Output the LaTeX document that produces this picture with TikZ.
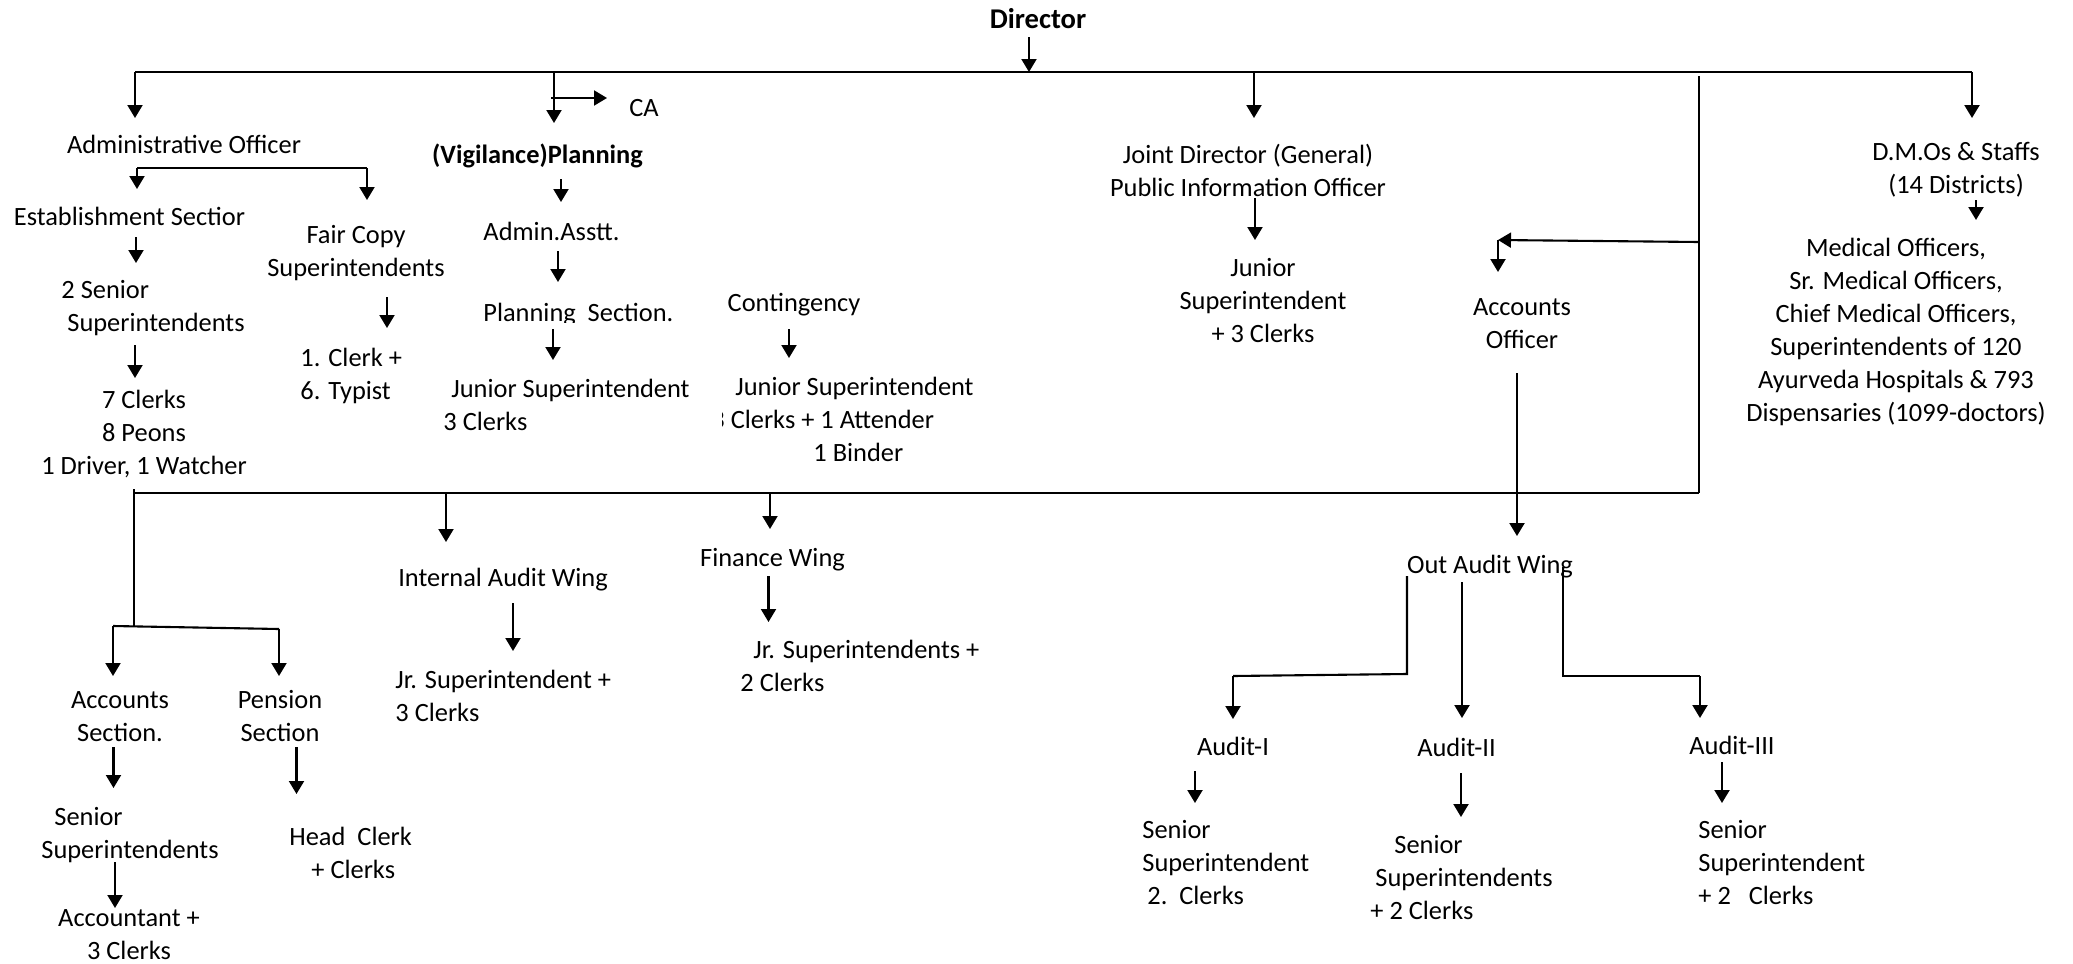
\documentclass[tikz,border=0pt]{standalone}
\usepackage{fontspec}
\setmainfont{Carlito}
\usetikzlibrary{arrows.meta}
\newcommand\mylines[2][c]{\begin{tabular}[t]{@{}#1@{}}#2\end{tabular}}
\begin{document}
\begin{tikzpicture}[x=0.5pt,y=-0.5pt,
  every node/.style={inner sep=0pt,font=\fontsize{13.2pt}{16.5pt}\selectfont},
  tb/.style={anchor=base}, tbw/.style={anchor=base west},
  ln/.style={line width=1.05pt},
  arr/.style={line width=1.05pt,-{Triangle[length=6.5pt,width=7.5pt]}}]
\useasboundingbox[fill=white] (0,0) rectangle (2073,964);

% ---------- text nodes ----------
\node[tb,font=\fontsize{14.3pt}{17pt}\selectfont\bfseries] (dir) at (1038,28) {Director};
\node[tbw] (ca) at (629,116) {CA};
\node[tb] (ao) at (184,153) {Administrative Officer};
\node[tb] (vig) at (537.5,163) {\bfseries (Vigilance)Planning};
\node[tb] (jd) at (1248,163) {\mylines{Joint Director (General)\\Public Information Officer}};
\node[tb] (dmo) at (1956,160) {\mylines{D.M.Os \& Staffs\\(14 Districts)}};
\node[tb] (est) at (129.5,225) {Establishment Sectior};
\node[tb] (fc) at (356,243) {\mylines{Fair Copy\\Superintendents}};
\node[tb] (aa) at (551.5,240) {Admin.Asstt.};
\begin{scope}
\clip (470,290) rectangle (700,322);
\node[tbw] (ps) at (483,321) {Planning\ \ Section.};
\end{scope}
\node[tbw] (ss) at (61,298) {\mylines[l]{2 Senior\\\hspace*{3pt}Superintendents}};
\node[tb] (cont) at (794,311) {Contingency};
\node[tb] (jds) at (1263,276) {\mylines{Junior\\Superintendent\\+ 3 Clerks}};
\node[tb] (mo) at (1896,256) {\mylines{Medical Officers,\\Sr. Medical Officers,\\Chief Medical Officers,\\Superintendents of 120\\Ayurveda Hospitals \& 793\\Dispensaries (1099-doctors)}};
\node[tb] (acco) at (1522,315) {\mylines{Accounts\\Officer}};
\node[tbw] (fcs) at (300,366) {\mylines[l]{1. Clerk +\\6. Typist}};
\node[tbw] (pjs) at (443,397) {\mylines[l]{\hspace*{4pt}Junior Superintendent\\3 Clerks}};
\begin{scope}
\clip (722,360) rectangle (1000,480);
\node[tbw] (cjs) at (711,395) {\mylines[l]{\hspace*{12pt}Junior Superintendent\\3 Clerks + 1 Attender\\\hspace*{51pt}1 Binder}};
\end{scope}
\node[tb] (estc) at (144,408) {\mylines{7 Clerks\\8 Peons\\1 Driver, 1 Watcher}};

\node[tb] (ia) at (503,586) {Internal Audit Wing};
\node[tb] (fw) at (772.5,566) {Finance Wing};
\node[tb] (oa) at (1490,573) {Out Audit Wing};
\node[tb] (as) at (120,708) {\mylines{Accounts\\Section.}};
\node[tb] (pen) at (280,708) {\mylines{Pension\\Section}};
\node[tbw] (iac) at (395,688) {\mylines[l]{Jr. Superintendent +\\3 Clerks}};
\node[tbw] (fwc) at (740,658) {\mylines[l]{\hspace*{6.5pt}Jr. Superintendents +\\2 Clerks}};
\node[tbw] (ass) at (41,825) {\mylines[l]{\hspace*{6.5pt}Senior\\Superintendents}};
\node[tbw] (hc) at (289,845) {\mylines[l]{Head\ \ Clerk\\\hspace*{11pt}+ Clerks}};
\node[tb] (acc) at (129,926) {\mylines{Accountant +\\3 Clerks}};
\node[tb] (a1) at (1233,755) {Audit-I};
\node[tb] (a2) at (1456.5,756) {Audit-II};
\node[tb] (a3) at (1732,754) {Audit-III};
\node[tbw] (a1c) at (1142,838) {\mylines[l]{Senior\\Superintendent\\\hspace*{2.5pt}2.\ \ Clerks}};
\node[tbw] (a2c) at (1370,853) {\mylines[l]{\hspace*{12pt}Senior\\\hspace*{2.5pt}Superintendents\\+ 2 Clerks}};
\node[tbw] (a3c) at (1698,838) {\mylines[l]{Senior\\Superintendent\\+ 2\ \ \ Clerks}};

% ---------- connector points ----------
\coordinate (dirA) at (1029,37);  \coordinate (dirB) at (1029,72);
\coordinate (tL) at (135,72);     \coordinate (tR) at (1972,72);
\coordinate (aoT) at (135,118);
\coordinate (vigS) at (554,72);   \coordinate (vigT) at (554,123);
\coordinate (caS) at (551,98);    \coordinate (caT) at (607,98);
\coordinate (jdS) at (1254,72);   \coordinate (jdT) at (1254,118);
\coordinate (dmoT) at (1972,118);
\coordinate (vR1) at (1699,76);   \coordinate (vR2) at (1699,493);
\coordinate (accH) at (1699,242); \coordinate (accC) at (1498,240); \coordinate (accD) at (1498,272);
\coordinate (accoS) at (1517,373); \coordinate (accoT) at (1517,536);
\coordinate (bL) at (134,493);
\coordinate (vL1) at (134,489);   \coordinate (vL2) at (134,627);
\coordinate (brL) at (113,626);   \coordinate (brR) at (279,629);
\coordinate (asT) at (113,676);   \coordinate (penT) at (279,676);
\coordinate (iaS) at (446,493);   \coordinate (iaT) at (446,542);
\coordinate (fwS) at (770,493);   \coordinate (fwT) at (770,529);
\coordinate (aoL) at (137,168);   \coordinate (aoR) at (367,168);
\coordinate (estT) at (137,189);  \coordinate (fcT) at (367,200);
\coordinate (e1) at (136,237);    \coordinate (e2) at (136,263);
\coordinate (s1) at (135,345);    \coordinate (s2) at (135,378);
\coordinate (f1) at (387,297);    \coordinate (f2) at (387,328);
\coordinate (v1) at (561,179);    \coordinate (v2) at (561,202);
\coordinate (v3) at (558,251);    \coordinate (v4) at (558,282);
\coordinate (v5) at (553,329);    \coordinate (v6) at (553,360);
\coordinate (c1) at (789,329);    \coordinate (c2) at (789,358);
\coordinate (j1) at (1255,198);   \coordinate (j2) at (1255,240);
\coordinate (d1) at (1976,200);   \coordinate (d2) at (1976,220);
\coordinate (as1) at (113.5,747); \coordinate (as2) at (113.5,788);
\coordinate (p1) at (296.5,747);  \coordinate (p2) at (296.5,794);
\coordinate (ss1) at (115,862);   \coordinate (ss2) at (115,908);
\coordinate (ia1) at (513,603);   \coordinate (ia2) at (513,651);
\coordinate (fw1) at (768.5,576); \coordinate (fw2) at (768.5,622);
\coordinate (oL1) at (1407,576);  \coordinate (oL2) at (1407,674);
\coordinate (oL3) at (1233,676);  \coordinate (oL4) at (1233,719);
\coordinate (oM1) at (1462,582);  \coordinate (oM2) at (1462,718);
\coordinate (oR1) at (1563,567);  \coordinate (oR2) at (1563,676);
\coordinate (oR3) at (1700,676);  \coordinate (oR4) at (1700,718);
\coordinate (x1) at (1195,771);   \coordinate (x2) at (1195,803);
\coordinate (y1) at (1461,773);   \coordinate (y2) at (1461,817);
\coordinate (z1) at (1722,762);   \coordinate (z2) at (1722,803);

% ---------- connectors ----------
\draw[arr] (dirA) -- (dirB);
\draw[ln] (tL) -- (tR);
\draw[arr] (tL) -- (aoT);
\draw[arr] (vigS) -- (vigT);
\draw[arr] (caS) -- (caT);
\draw[arr] (jdS) -- (jdT);
\draw[arr] (tR) -- (dmoT);
\draw[ln] (vR1) -- (vR2);
\draw[arr] (accH) -- (accC);
\draw[arr] (accC) -- (accD);
\draw[arr] (accoS) -- (accoT);
\draw[ln] (bL) -- (vR2);
\draw[ln] (vL1) -- (vL2);
\draw[ln] (brL) -- (brR);
\draw[arr] (brL) -- (asT);
\draw[arr] (brR) -- (penT);
\draw[arr] (iaS) -- (iaT);
\draw[arr] (fwS) -- (fwT);
\draw[ln] (aoL) -- (aoR);
\draw[arr] (aoL) -- (estT);
\draw[arr] (aoR) -- (fcT);
\draw[arr] (e1) -- (e2);
\draw[arr] (s1) -- (s2);
\draw[arr] (f1) -- (f2);
\draw[arr] (v1) -- (v2);
\draw[arr] (v3) -- (v4);
\draw[arr] (v5) -- (v6);
\draw[arr] (c1) -- (c2);
\draw[arr] (j1) -- (j2);
\draw[arr] (d1) -- (d2);
\draw[arr] (as1) -- (as2);
\draw[arr] (p1) -- (p2);
\draw[arr] (ss1) -- (ss2);
\draw[arr] (ia1) -- (ia2);
\draw[arr] (fw1) -- (fw2);
\draw[ln] (oL1) -- (oL2) -- (oL3);
\draw[arr] (oL3) -- (oL4);
\draw[arr] (oM1) -- (oM2);
\draw[ln] (oR1) -- (oR2) -- (oR3);
\draw[arr] (oR3) -- (oR4);
\draw[arr] (x1) -- (x2);
\draw[arr] (y1) -- (y2);
\draw[arr] (z1) -- (z2);
\end{tikzpicture}
\end{document}
